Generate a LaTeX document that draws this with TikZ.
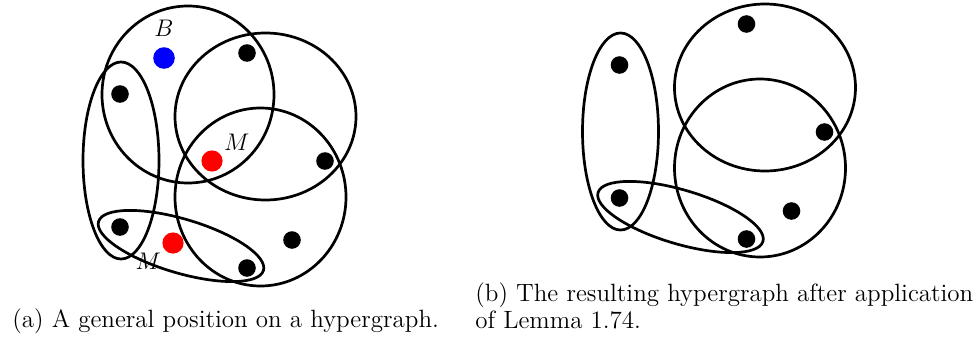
\documentclass[tikz,border=0pt]{standalone}
\usepackage{xcolor}
\usepackage{tikz}
\usetikzlibrary{positioning}
\definecolor{myblue}{RGB}{0,0,255}
\definecolor{myred}{RGB}{255,0,0}
\tikzset{
  vertex/.style={circle, fill=black, inner sep=0pt, minimum size=8.8pt},
  bluevertex/.style={circle, fill=myblue, inner sep=0pt, minimum size=10.8pt},
  redvertex/.style={circle, fill=myred, inner sep=0pt, minimum size=10.6pt},
  hyperedge/.style={draw=black, line width=1.35pt},
  vlabel/.style={font=\fontsize{12.5}{13.5}\selectfont, inner sep=1pt},
  caption/.style={font=\fontsize{12.5}{13.5}\selectfont, inner sep=0pt, align=left}
}

\begin{document}
\begin{tikzpicture}[x=0.5pt, y=-0.5pt]
  \useasboundingbox (0,0) rectangle (976,337);

  % (a) hyperedges of the general position
  \draw[hyperedge] (188,94.5) ellipse [x radius=86, y radius=88.5];
  \draw[hyperedge] (265.5,116.5) ellipse [x radius=90.5, y radius=83.5];
  \draw[hyperedge] (260.5,197) ellipse [x radius=85.5, y radius=89];
  \draw[hyperedge] (121,160.5) ellipse [x radius=38, y radius=98.5];
  \draw[hyperedge, rotate around={-16.5:(181,246)}] (181,246) ellipse [x radius=86, y radius=27];

  % (a) vertices, B and the two M
  \node[vertex] (a1) at (247,53) {};
  \node[vertex] (a2) at (120,94) {};
  \node[vertex] (a3) at (325,161) {};
  \node[vertex] (a4) at (120,227) {};
  \node[vertex] (a5) at (292,240) {};
  \node[vertex] (a6) at (247,268) {};
  \node[bluevertex] (aB) at (164,58) {};
  \node[redvertex] (aM) at (212,161) {};
  \node[redvertex] (aN) at (173,243) {};
  \node[vlabel, above=4pt of aB] (labB) {$B$};
  \node[vlabel, above right=0pt and 1pt of aM] (labM) {$M$};
  \node[vlabel, below left=0pt and 1pt of aN] (labN) {$M$};

  % (b) same hypergraph after the lemma, shifted right
  \begin{scope}[shift={(499.5,-29)}]
    \draw[hyperedge] (265.5,116.5) ellipse [x radius=90.5, y radius=83.5];
    \draw[hyperedge] (260.5,197) ellipse [x radius=85.5, y radius=89];
    \draw[hyperedge] (121,160.5) ellipse [x radius=38, y radius=98.5];
    \draw[hyperedge, rotate around={-16.5:(181,246)}] (181,246) ellipse [x radius=86, y radius=27];

    \node[vertex] (b1) at (247,53) {};
    \node[vertex] (b2) at (120,94) {};
    \node[vertex] (b3) at (325,161) {};
    \node[vertex] (b4) at (120,227) {};
    \node[vertex] (b5) at (292,240) {};
    \node[vertex] (b6) at (247,268) {};
  \end{scope}

  % captions
  \node[caption, anchor=base west] (capa) at (12,327) {(a) A general position on a hypergraph.};
  \node[caption, anchor=base west] (capb) at (475,328) {(b) The resulting hypergraph after application\\of Lemma 1.74.};
\end{tikzpicture}
\end{document}
